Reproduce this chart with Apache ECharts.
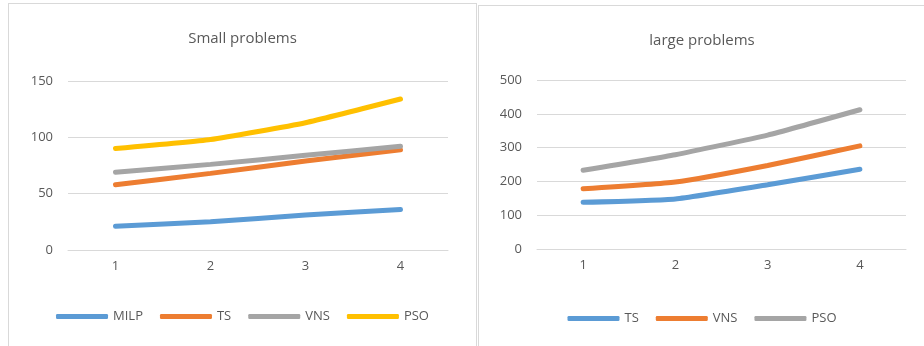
<!DOCTYPE html>
<html>
<head>
<meta charset="utf-8">
<script src="https://cdn.jsdelivr.net/npm/echarts@6/dist/echarts.min.js"></script>
<style>
html,body{margin:0;padding:0;background:#fff;width:924px;height:346px;overflow:hidden;position:relative;}
#leftBox{position:absolute;left:8px;top:3px;width:469px;height:350px;border:1px solid #d9d9d9;box-sizing:border-box;}
#rightBox{position:absolute;left:478px;top:5px;width:460px;height:350px;border:1px solid #d9d9d9;box-sizing:border-box;}
#c1{position:absolute;left:0;top:0;width:467px;height:343px;}
#c2{position:absolute;left:0;top:0;width:446px;height:341px;}
</style>
</head>
<body>
<div id="leftBox"><div id="c1"></div></div>
<div id="rightBox"><div id="c2"></div></div>
<script>
// Small problems
const smallCategories = ['1', '2', '3', '4'];
const smallMILP = [21, 25, 31, 36];
const smallTS = [58, 68, 79, 89];
const smallVNS = [69, 76, 84, 92];
const smallPSO = [90, 98, 113, 134];

// Large problems
const largeCategories = ['1', '2', '3', '4'];
const largeTS = [138, 148, 190, 236];
const largeVNS = [178, 198, 247, 305];
const largePSO = [233, 279, 337, 412];

const FONT = 'Open Sans';
const TXT = '#595959';
const GRID = '#d9d9d9';
const BLUE = '#5B9BD5', ORANGE = '#ED7D31', GRAY = '#A5A5A5', YELLOW = '#FFC000';

function lineSeries(name, data, color) {
  return {
    name: name, type: 'line', data: data, smooth: 0.15,
    symbol: 'none', color: color,
    lineStyle: { width: 5, color: color, cap: 'round' }
  };
}

function makeOption(title, cats, series, yMax, yInt, grid) {
  return {
    animation: false,
    textStyle: { fontFamily: FONT },
    title: {
      text: title, left: 'center', top: 22,
      textStyle: { fontFamily: FONT, fontSize: 15, fontWeight: 'normal', color: TXT }
    },
    legend: {
      left: 'center', top: 301,
      icon: 'roundRect', itemWidth: 52, itemHeight: 5, itemGap: 17,
      textStyle: { fontFamily: FONT, fontSize: 13, color: TXT }
    },
    grid: grid,
    xAxis: {
      type: 'category', data: cats, boundaryGap: true,
      axisLine: { show: true, lineStyle: { color: GRID, width: 1 } },
      axisTick: { show: false },
      axisLabel: { color: TXT, fontFamily: FONT, fontSize: 13, margin: 10 }
    },
    yAxis: {
      type: 'value', min: 0, max: yMax, interval: yInt,
      axisLine: { show: false }, axisTick: { show: false },
      splitLine: { lineStyle: { color: GRID, width: 1 } },
      axisLabel: { color: TXT, fontFamily: FONT, fontSize: 13, margin: 15 }
    },
    series: series
  };
}

const c1 = echarts.init(document.getElementById('c1'));
c1.setOption(makeOption('Small problems', smallCategories, [
  lineSeries('MILP', smallMILP, BLUE),
  lineSeries('TS', smallTS, ORANGE),
  lineSeries('VNS', smallVNS, GRAY),
  lineSeries('PSO', smallPSO, YELLOW)
], 150, 50, { left: 59, right: 28, top: 77, height: 169 }));

const c2 = echarts.init(document.getElementById('c2'));
c2.setOption(makeOption('large problems', largeCategories, [
  lineSeries('TS', largeTS, BLUE),
  lineSeries('VNS', largeVNS, ORANGE),
  lineSeries('PSO', largePSO, GRAY)
], 500, 100, { left: 58, right: 19, top: 74, height: 169 }));
</script>
</body>
</html>
